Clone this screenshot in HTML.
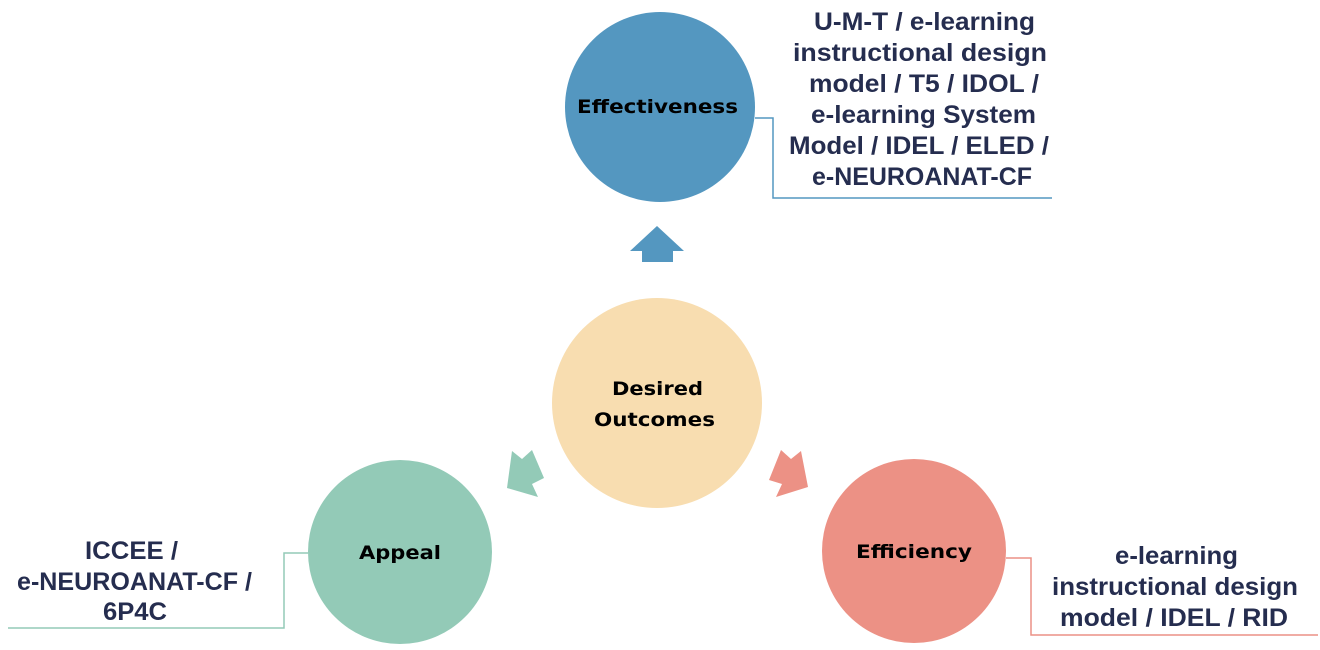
<!DOCTYPE html>
<html><head><meta charset="utf-8"><style>
html,body{margin:0;padding:0;background:#fff;}
svg{display:block;}
.t{font-family:"Liberation Sans",Arial,sans-serif;font-weight:bold;font-size:25px;fill:#252d4f;}
.c{font-family:"DejaVu Sans",Verdana,sans-serif;font-weight:bold;font-size:19px;fill:#000;}
</style></head><body>
<svg width="1320" height="650" viewBox="0 0 1320 650">
<circle cx="660" cy="107" r="95" fill="#5497c0"/>
<circle cx="657" cy="403" r="105" fill="#f8ddb0"/>
<circle cx="400" cy="552" r="92" fill="#93cab7"/>
<circle cx="914" cy="551" r="92" fill="#ec9185"/>
<polygon points="630,251 657,226 684,251 673,251 673,262 642,262 642,251" fill="#5497c0"/>
<polygon points="507,488 512,451 522,459 532,450 544,478 532,484 538,497" fill="#93cab7"/>
<polygon points="808,487 801,451 791,459 781,450 769,480 782,484 776,497" fill="#ec9185"/>
<polyline points="755,118 773,118 773,198 1052,198" fill="none" stroke="#5497c0" stroke-width="1.5"/>
<polyline points="308,553 284,553 284,628 8,628" fill="none" stroke="#93cab7" stroke-width="1.5"/>
<polyline points="1006,558 1031,558 1031,635 1318,635" fill="none" stroke="#ec9185" stroke-width="1.5"/>
<g class="c">
<text x="577" y="113" textLength="161" lengthAdjust="spacingAndGlyphs">Effectiveness</text>
<text x="612" y="395" textLength="91" lengthAdjust="spacingAndGlyphs">Desired</text>
<text x="594" y="426" textLength="121" lengthAdjust="spacingAndGlyphs">Outcomes</text>
<text x="359" y="559" textLength="82" lengthAdjust="spacingAndGlyphs">Appeal</text>
<text x="856" y="558" textLength="116" lengthAdjust="spacingAndGlyphs">Efficiency</text>
</g>
<g class="t">
<text x="814" y="30" textLength="221" lengthAdjust="spacingAndGlyphs">U-M-T / e-learning</text>
<text x="793" y="61" textLength="254" lengthAdjust="spacingAndGlyphs">instructional design</text>
<text x="809" y="92" textLength="230" lengthAdjust="spacingAndGlyphs">model / T5 / IDOL /</text>
<text x="811" y="123" textLength="225" lengthAdjust="spacingAndGlyphs">e-learning System</text>
<text x="789" y="154" textLength="260" lengthAdjust="spacingAndGlyphs">Model / IDEL / ELED /</text>
<text x="812" y="185" textLength="220" lengthAdjust="spacingAndGlyphs">e-NEUROANAT-CF</text>
<text x="85" y="559" textLength="93" lengthAdjust="spacingAndGlyphs">ICCEE /</text>
<text x="17" y="590" textLength="235" lengthAdjust="spacingAndGlyphs">e-NEUROANAT-CF /</text>
<text x="103" y="620" textLength="64" lengthAdjust="spacingAndGlyphs">6P4C</text>
<text x="1115" y="564" textLength="123" lengthAdjust="spacingAndGlyphs">e-learning</text>
<text x="1052" y="595" textLength="246" lengthAdjust="spacingAndGlyphs">instructional design</text>
<text x="1060" y="626" textLength="228" lengthAdjust="spacingAndGlyphs">model / IDEL /  RID</text>
</g>
</svg>
</body></html>
